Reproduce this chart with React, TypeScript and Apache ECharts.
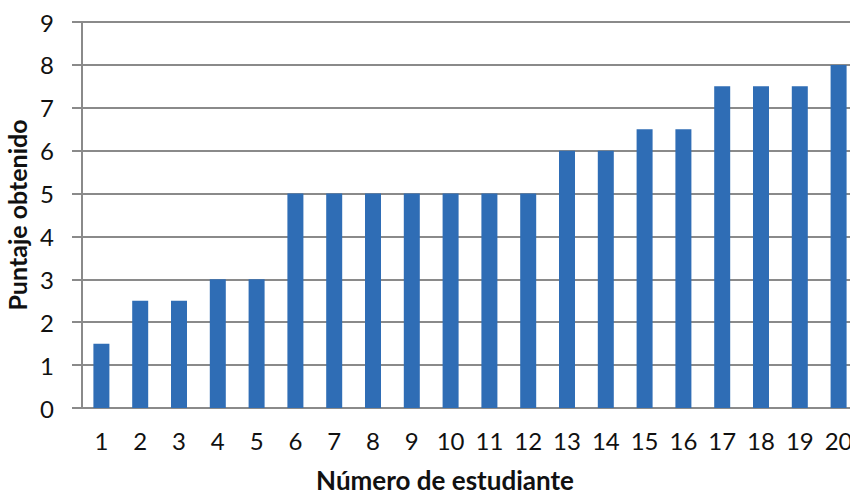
import React, { useEffect, useRef } from "react";
import * as echarts from "echarts";

const categories = ["1","2","3","4","5","6","7","8","9","10","11","12","13","14","15","16","17","18","19","20"];
const scores = [1.5, 2.5, 2.5, 3, 3, 5, 5, 5, 5, 5, 5, 5, 6, 6, 6.5, 6.5, 7.5, 7.5, 7.5, 8];
const yTitle = "Puntaje obtenido";
const xTitle = "Número de estudiante";

export default function App() {
  const ref = useRef<HTMLDivElement>(null);
  useEffect(() => {
    document.body.style.margin = "0";
    const chart = echarts.init(ref.current!, null, { renderer: "svg" });
    const font = "Lato, 'Open Sans', sans-serif";
    chart.setOption({
      animation: false,
      backgroundColor: "#ffffff",
      grid: { left: 82, right: -8, top: 22, bottom: 91, containLabel: false, outerBoundsMode: "none" },
      xAxis: {
        type: "category",
        data: categories,
        axisLine: { show: true, lineStyle: { color: "#8a8a8a", width: 2 } },
        axisTick: { show: false },
        axisLabel: { color: "#111", fontSize: 24, fontFamily: font, margin: 20, interval: 0 },
      },
      yAxis: {
        type: "value",
        min: 0,
        max: 9,
        interval: 1,
        name: yTitle,
        nameLocation: "middle",
        nameGap: 48,
        nameTextStyle: { color: "#111", fontSize: 25, fontWeight: "bold", fontFamily: font },
        axisLine: { show: true, lineStyle: { color: "#8a8a8a", width: 2 } },
        axisTick: { show: true, length: 10, lineStyle: { color: "#8a8a8a", width: 2 } },
        axisLabel: { color: "#111", fontSize: 24, fontFamily: font, margin: 28 },
        splitLine: { show: true, lineStyle: { color: "#8a8a8a", width: 2 } },
      },
      graphic: [
        {
          type: "text",
          x: 445,
          y: 480,
          style: {
            text: xTitle,
            fill: "#111",
            font: `bold 26px ${font}`,
            textAlign: "center",
            textVerticalAlign: "middle",
          },
        },
      ],
      series: [
        {
          type: "bar",
          data: scores,
          barWidth: 16,
          itemStyle: { color: "#2F6DB5" },
        },
      ],
    });
    return () => chart.dispose();
  }, []);
  return <div ref={ref} style={{ width: 850, height: 499 }} />;
}
